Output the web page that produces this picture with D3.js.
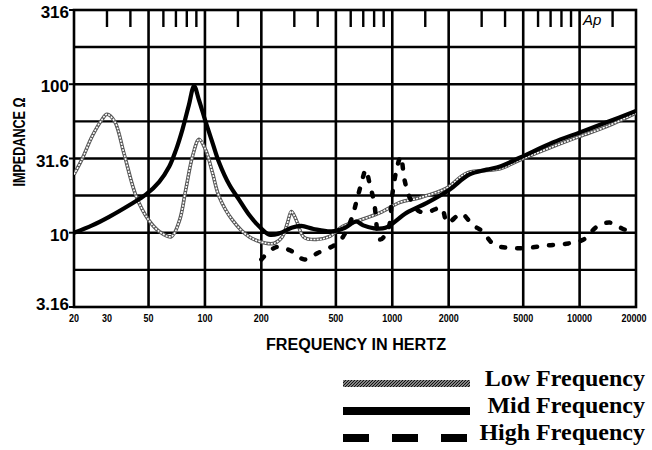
<!DOCTYPE html>
<html>
<head>
<meta charset="utf-8">
<script src="https://cdn.jsdelivr.net/npm/d3@7"></script>
<style>
	body { margin: 0; background: #fff; }
	text { font-family: "Liberation Sans", Arial, sans-serif; }
</style>
</head>
<body>
<div id="vis"></div>
<script>

// impedance curves, [frequency Hz, ohms]
var lowSeries = [
	[20,24.7],[22,31],[25,44.6],[28,57],[30,62.7],[33,56],[37,34],[43,17.5],[50,12.2],
	[57,10.2],[66,9.4],[73,12],[79,19.5],[86,33],[93,42.5],[101,36],[110,25],[119,17.5],
	[140,12.2],[172,9.4],[212,8.5],[235,8.5],[259,9.4],[275,11.5],[289,13.9],[300,13],
	[311,11.7],[338,9.3],[393,9.0],[460,9.4],[541,11.0],[641,11.9],[856,13.6],[1100,16],
	[1400,17.2],[1950,20],[2500,25.2],[3760,27],[4825,31],[7200,38],[10000,44.5],
	[14000,52],[20000,64]
];

var midSeries = [
	[20,10],[25,11.2],[30.8,12.8],[40,15.5],[48.5,18.1],[57,22],[64.5,27.9],[70,36],
	[75.9,49.7],[82,72],[87.5,97],[93,78],[101,55.5],[110,40],[119,29.7],[135,21],
	[152,16.7],[172,13.2],[195,11.0],[221,9.7],[250,9.9],[290,10.8],[327,11.1],[380,10.6],
	[474,10.2],[560,10.8],[641,11.9],[700,11.2],[800,10.7],[920,10.8],[1190,13.6],
	[1530,15.9],[2020,19.5],[2570,24.6],[3190,26.6],[3760,27.9],[4825,32.1],[7200,40.5],
	[10040,47.4],[13950,55.4],[20000,66]
];

var highSeries = [
	[200,6.6],[240,8.0],[285,7.6],[340,6.6],[400,7.3],[520,8.7],[600,12],[650,17],
	[700,24],[720,26.6],[760,21],[800,16],[860,9.0],[950,10.5],[1000,18],[1050,26],
	[1110,32.6],[1160,23],[1240,17.2],[1400,13.9],[1600,14],[1830,14.7],[1970,11.7],
	[2340,13.4],[2680,11.3],[3030,10.2],[3500,8.3],[4200,7.9],[5270,7.9],[6660,8.2],
	[8370,8.4],[10500,9.0],[12400,11.0],[14500,11.7],[17400,10.5],[20000,10.3]
];

var xTickValues = [20, 30, 50, 100, 200, 500, 1000, 2000, 5000, 10000, 20000];
var xGridValues = [50, 100, 200, 500, 1000, 2000, 5000, 10000];
var topTickValues = [30,40,60,70,80,90,150,300,400,600,700,800,900,1500,3000,4000,6000,7000,8000,9000,15000];
var yTickValues = [316, 100, 31.6, 10, 3.16];
var yTickLabels = ["316", "100", "31.6", "10", "3.16"];
var yGridValues = [5.62, 10, 17.8, 31.6, 56.2, 100, 178];

var legendNames = ["Low Frequency", "Mid Frequency", "High Frequency"];

function drawChart() {

	var width = 652, height = 450;
	var plotLeft = 74, plotRight = 636, plotTop = 10, plotBottom = 307;

	var svg = d3.select("#vis").append("svg")
		.attr("width", width)
		.attr("height", height);

	var defs = svg.append("defs");

	defs.append("clipPath").attr("id", "plotClip")
		.append("rect")
		.attr("x", plotLeft).attr("y", plotTop)
		.attr("width", plotRight - plotLeft).attr("height", plotBottom - plotTop);

	var hatch = defs.append("pattern")
		.attr("id", "hatch")
		.attr("patternUnits", "userSpaceOnUse")
		.attr("width", 3).attr("height", 3);
	hatch.append("rect").attr("width", 3).attr("height", 3).attr("fill", "#eee");
	hatch.append("path").attr("d", "M-1,1 L1,-1 M0,3 L3,0 M2,4 L4,2")
		.attr("stroke", "#111").attr("stroke-width", 1.4);

	var xScale = d3.scaleLog().domain([20, 20000]).range([plotLeft, plotRight]);
	var yScale = d3.scaleLog().domain([3.16, 316]).range([plotBottom, plotTop]);

	// grid
	svg.selectAll(".hgrid")
		.data(yGridValues)
		.enter().append("line")
		.attr("class", "hgrid")
		.attr("x1", plotLeft).attr("x2", plotRight)
		.attr("y1", function(d) { return yScale(d); })
		.attr("y2", function(d) { return yScale(d); })
		.attr("stroke", "#000").attr("stroke-width", 2.4);

	svg.selectAll(".vgrid")
		.data(xGridValues)
		.enter().append("line")
		.attr("class", "vgrid")
		.attr("x1", function(d) { return xScale(d); })
		.attr("x2", function(d) { return xScale(d); })
		.attr("y1", plotTop).attr("y2", plotBottom)
		.attr("stroke", "#000").attr("stroke-width", 2.6);

	svg.selectAll(".topTick")
		.data(topTickValues)
		.enter().append("line")
		.attr("class", "topTick")
		.attr("x1", function(d) { return xScale(d); })
		.attr("x2", function(d) { return xScale(d); })
		.attr("y1", plotTop).attr("y2", plotTop + 17)
		.attr("stroke", "#000").attr("stroke-width", 2.4);

	svg.append("rect")
		.attr("x", plotLeft).attr("y", plotTop)
		.attr("width", plotRight - plotLeft).attr("height", plotBottom - plotTop)
		.attr("fill", "none")
		.attr("stroke", "#000").attr("stroke-width", 2.6);

	// left ticks
	svg.selectAll(".yTick")
		.data(yTickValues)
		.enter().append("line")
		.attr("class", "yTick")
		.attr("x1", plotLeft - 5).attr("x2", plotLeft)
		.attr("y1", function(d) { return yScale(d); })
		.attr("y2", function(d) { return yScale(d); })
		.attr("stroke", "#000").attr("stroke-width", 2);

	svg.selectAll(".yLabel")
		.data(yTickValues)
		.enter().append("text")
		.attr("class", "yLabel")
		.attr("x", plotLeft - 5)
		.attr("y", function(d) { return Math.min(yScale(d) + 8, plotBottom + 3); })
		.attr("text-anchor", "end")
		.style("font-size", "17px")
		.style("font-weight", "bold")
		.text(function(d, i) { return yTickLabels[i]; });

	svg.selectAll(".xLabel")
		.data(xTickValues)
		.enter().append("text")
		.attr("class", "xLabel")
		.attr("x", function(d) { return Math.min(xScale(d), plotRight - 2); })
		.attr("y", plotBottom + 15)
		.attr("text-anchor", "middle")
		.style("font-size", "11px")
		.style("font-weight", "bold")
		.attr("textLength", function(d) { return String(d).length * 5; })
		.attr("lengthAdjust", "spacingAndGlyphs")
		.text(function(d) { return d; });

	svg.append("text")
		.attr("x", (plotLeft + plotRight) / 2 + 1)
		.attr("y", 350)
		.attr("text-anchor", "middle")
		.style("font-size", "16px")
		.style("font-weight", "bold")
		.attr("textLength", 180)
		.attr("lengthAdjust", "spacingAndGlyphs")
		.text("FREQUENCY IN HERTZ");

	svg.append("text")
		.attr("transform", "translate(25,142) rotate(-90)")
		.attr("text-anchor", "middle")
		.style("font-size", "16px")
		.style("font-weight", "bold")
		.attr("textLength", 89)
		.attr("lengthAdjust", "spacingAndGlyphs")
		.text("IMPEDANCE \u03a9");

	svg.append("text")
		.attr("x", 583).attr("y", 25)
		.style("font-size", "15px")
		.style("font-style", "italic")
		.text("Ap");

	// curves
	var line = d3.line()
		.x(function(d) { return xScale(d[0]); })
		.y(function(d) { return yScale(d[1]); })
		.curve(d3.curveCatmullRom.alpha(0.5));

	var curves = svg.append("g").attr("clip-path", "url(#plotClip)");

	curves.append("path")
		.attr("d", line(lowSeries))
		.attr("fill", "none")
		.attr("stroke", "#555").attr("stroke-width", 3.6);

	curves.append("path")
		.attr("d", line(lowSeries))
		.attr("fill", "none")
		.attr("stroke", "#fff").attr("stroke-width", 1.6)
		.attr("stroke-dasharray", "2,1.2");

	curves.append("path")
		.attr("d", line(midSeries))
		.attr("fill", "none")
		.attr("stroke", "#000").attr("stroke-width", 4.2)
		.attr("stroke-linejoin", "round");

	curves.append("path")
		.attr("d", line(highSeries))
		.attr("fill", "none")
		.attr("stroke", "#000").attr("stroke-width", 4.5)
		.attr("stroke-linecap", "round")
		.attr("stroke-dasharray", "4,12");

	// legend
	var legend = svg.append("g");

	legend.append("rect")
		.attr("x", 343).attr("y", 380)
		.attr("width", 127).attr("height", 7)
		.attr("fill", "url(#hatch)");

	legend.append("rect")
		.attr("x", 343).attr("y", 407)
		.attr("width", 127).attr("height", 8)
		.attr("fill", "#000");

	legend.append("line")
		.attr("x1", 343).attr("x2", 468)
		.attr("y1", 438).attr("y2", 438)
		.attr("stroke", "#000").attr("stroke-width", 8)
		.attr("stroke-dasharray", "26,23");

	legend.selectAll(".legendText")
		.data(legendNames)
		.enter().append("text")
		.attr("class", "legendText")
		.attr("x", 645)
		.attr("y", function(d, i) { return 386 + i * 27; })
		.attr("text-anchor", "end")
		.style("font-family", "'Liberation Serif', 'Times New Roman', serif")
		.style("font-size", "24px")
		.style("font-weight", "bold")
		.text(function(d) { return d; });
}

drawChart();

</script>
</body>
</html>
